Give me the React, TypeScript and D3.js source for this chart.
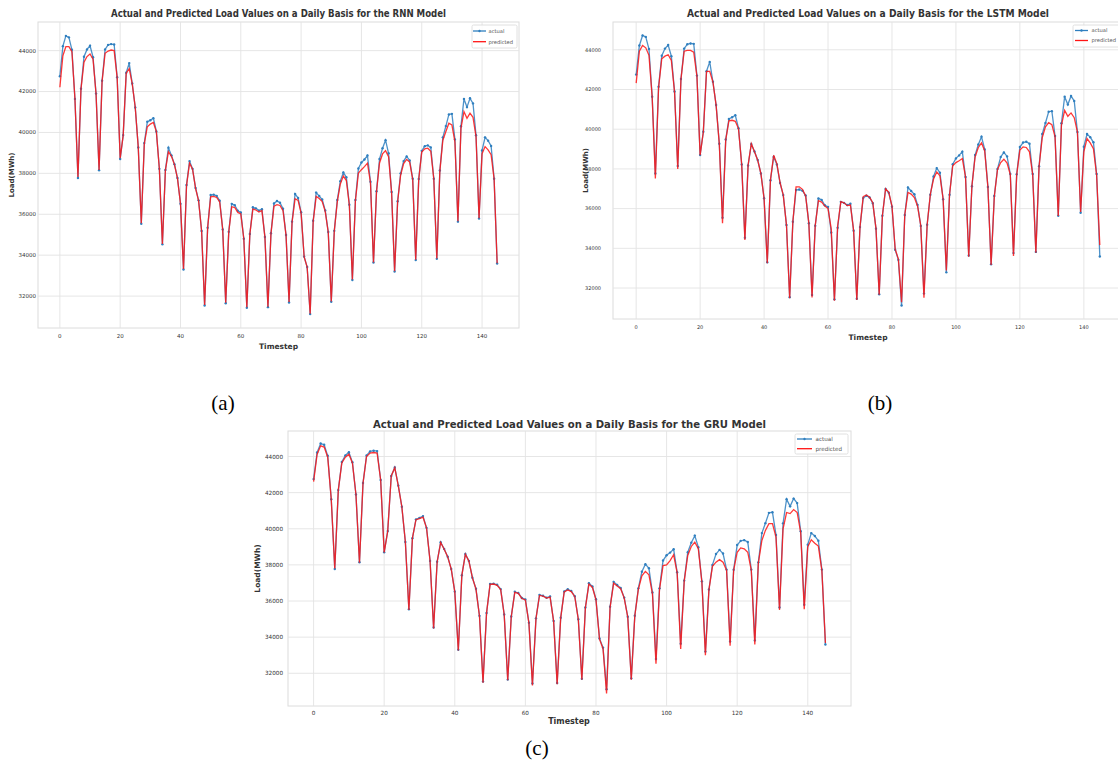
import React from "react";
import * as d3 from "d3";

// daily load (MWh), timesteps 0..145
const actualLoad = [
  42750, 44220, 44720, 44650, 44040, 41640, 37770, 42140, 43700, 44060,
  44240, 43680, 41900, 38150, 42530, 44060, 44280, 44320, 44300, 42700,
  38700, 39870, 42920, 43390, 42390, 41220, 39270, 35540, 39480, 40520,
  40600, 40700, 40050, 38220, 34530, 38170, 39250, 38880, 38450, 37770,
  36520, 33300, 37430, 38600, 38220, 37290, 36680, 35180, 31540, 35340,
  36940, 36960, 36900, 36660, 35260, 31650, 35140, 36510, 36440, 36170,
  36090, 34800, 31430, 35040, 36340, 36290, 36180, 36250, 34890, 31460,
  35070, 36530, 36650, 36560, 36270, 34990, 31690, 35640, 36990, 36800,
  36100, 33930, 33420, 31120, 35680, 37060, 36890, 36720, 36190, 35130,
  31720, 35190, 36700, 37620, 38040, 37810, 36470, 32790, 36700, 38240,
  38530, 38680, 38870, 37590, 33640, 37130, 38700, 39230, 39620, 38980,
  37090, 33200, 36640, 38000, 38600, 38830, 38630, 37740, 33760, 37730,
  39100, 39330, 39370, 39270, 37740, 33820, 38140, 39760, 40310, 40880,
  40910, 39660, 35640, 40300, 41640, 41240, 41670, 41420, 39860, 35790,
  39120, 39760, 39600, 39340, 37740, 33590,
];

const rnnPredicted = [
  42210, 43750, 44200, 44200, 43950, 41640, 37820, 42120, 43430, 43710,
  43840, 43580, 41880, 38160, 42500, 43870, 43980, 44030, 44000, 42680,
  38740, 39860, 42900, 43120, 42370, 41220, 39270, 35560, 39450, 40280,
  40410, 40490, 40040, 38200, 34550, 38150, 39060, 38830, 38430, 37750,
  36520, 33320, 37400, 38500, 38200, 37270, 36660, 35180, 31560, 35330,
  36850, 36870, 36820, 36600, 35250, 31670, 35130, 36370, 36330, 36090,
  36020, 34790, 31450, 35030, 36250, 36210, 36110, 36180, 34870, 31480,
  35050, 36400, 36470, 36430, 36180, 34970, 31710, 35610, 36760, 36680,
  36040, 33920, 33420, 31140, 35650, 36870, 36770, 36620, 36130, 35110,
  31740, 35170, 36620, 37480, 37870, 37650, 36430, 32810, 36650, 38020,
  38180, 38330, 38500, 37540, 33640, 37100, 38510, 38950, 39110, 38810,
  37060, 33220, 36600, 37920, 38480, 38680, 38550, 37700, 33780, 37700,
  39040, 39200, 39230, 39080, 37720, 33840, 38100, 39620, 40050, 40450,
  40370, 39540, 35660, 40200, 41020, 40690, 40940, 40740, 39800, 35810,
  38960, 39310, 39150, 38910, 37720, 33610,
];

const lstmPredicted = [
  42320, 43930, 44220, 44100, 43720, 41620, 37520, 42090, 43550, 43680,
  43750, 43460, 41870, 38000, 42510, 43930, 43970, 43970, 43880, 42660,
  38690, 39860, 42910, 42910, 42380, 41200, 39250, 35260, 39450, 40420,
  40450, 40400, 40030, 38220, 34420, 38190, 39270, 38860, 38440, 37770,
  36510, 33250, 37460, 38690, 38270, 37310, 36680, 35170, 31490, 35340,
  37100, 37100, 36970, 36640, 35260, 31530, 35160, 36400, 36330, 36130,
  36000, 34980, 31360, 35110, 36350, 36290, 36150, 36180, 34890, 31400,
  35080, 36600, 36690, 36580, 36300, 34990, 31660, 35640, 37000, 36820,
  36130, 33960, 33460, 31290, 35690, 36810, 36730, 36560, 36120, 35150,
  31510, 35190, 36730, 37490, 37850, 37650, 36470, 32880, 36700, 38160,
  38320, 38410, 38520, 37600, 33580, 37150, 38610, 39080, 39310, 38910,
  37090, 33160, 36600, 37970, 38320, 38490, 38290, 37720, 33620, 37700,
  38950, 39110, 39080, 38860, 37720, 33780, 38120, 39580, 40120, 40330,
  40230, 39610, 35630, 40200, 40950, 40650, 40820, 40580, 39860, 35830,
  38860, 39530, 39310, 39020, 37680, 34160,
];

const gruPredicted = [
  42610, 44130, 44590, 44520, 43960, 41640, 37800, 42140, 43640, 43960,
  44130, 43640, 41900, 38120, 42520, 44000, 44190, 44220, 44190, 42700,
  38690, 39870, 42920, 43380, 42380, 41220, 39270, 35500, 39480, 40500,
  40560, 40640, 40040, 38210, 34480, 38160, 39240, 38870, 38440, 37760,
  36510, 33260, 37420, 38590, 38210, 37280, 36660, 35160, 31480, 35330,
  36920, 36940, 36870, 36630, 35240, 31620, 35130, 36480, 36420, 36140,
  36060, 34780, 31320, 35020, 36310, 36270, 36160, 36220, 34870, 31400,
  35050, 36500, 36610, 36520, 36240, 34970, 31640, 35620, 36940, 36750,
  36060, 33890, 33360, 30880, 35650, 36980, 36830, 36680, 36160, 35110,
  31640, 35170, 36640, 37400, 37640, 37450, 36400, 32530, 36640, 37960,
  38000, 38240, 38560, 37560, 33350, 37100, 38520, 39020, 39260, 38890,
  37050, 33000, 36620, 37920, 38150, 38290, 38150, 37700, 33530, 37700,
  38700, 38940, 38890, 38700, 37700, 33600, 38100, 39350, 39910, 40280,
  40280, 39540, 35500, 40000, 40900, 40840, 41060, 40900, 39780, 35550,
  39000, 39390, 39200, 39040, 37680, 33680,
];

const xTicks = [0, 20, 40, 60, 80, 100, 120, 140];
const yTicks = [32000, 34000, 36000, 38000, 40000, 42000, 44000];
const legendLabels = ["actual", "predicted"];

const panels = [
  {
    tag: "(a)", model: "RNN", predicted: rnnPredicted,
    left: 38, right: 519, top: 22, bottom: 328,
    titleX: 278.5, titleW: 335, titleY: 17, titleSize: 10.5,
    tickSize: 5.5, yTickGap: 2, xTickGap: 10,
    yLabelX: 14, xLabelX: 278.5, xLabelY: 349, labelSize: 7.5,
    legend: { x: 472, y: 25, w: 45, h: 23, s0: 473, s1: 486, tx: 488.5, r1: 31, r2: 41.7, fs: 5.2 },
    tagX: 223, tagY: 410,
  },
  {
    tag: "(b)", model: "LSTM", predicted: lstmPredicted,
    left: 613, right: 1123, top: 22, bottom: 319,
    titleX: 868, titleW: 362, titleY: 17, titleSize: 10.5,
    tickSize: 5, yTickGap: 12, xTickGap: 10,
    yLabelX: 587.5, xLabelX: 868, xLabelY: 340, labelSize: 7.5,
    legend: { x: 1073, y: 25, w: 52, h: 22, s0: 1075, s1: 1088, tx: 1091.5, r1: 30.5, r2: 40.5, fs: 5.2 },
    tagX: 880, tagY: 410,
  },
  {
    tag: "(c)", model: "GRU", predicted: gruPredicted,
    left: 288, right: 851, top: 431, bottom: 706,
    titleX: 569.5, titleW: 393, titleY: 427.5, titleSize: 11,
    tickSize: 5.7, yTickGap: 5, xTickGap: 8.5,
    yLabelX: 260, xLabelX: 569, xLabelY: 724, labelSize: 8,
    legend: { x: 795, y: 434, w: 53, h: 20, s0: 797, s1: 812, tx: 815.5, r1: 439, r2: 448.7, fs: 5.6 },
    tagX: 537, tagY: 755,
  },
];

const blue = "#2f7fbf";
const red = "#ff1414";
const gridColor = "#e3e3e3";
const font = "DejaVu Sans, sans-serif";

function ChartPanel({ p }: { p: (typeof panels)[number] }) {
  const n = actualLoad.length;
  const pad = (n - 1) * 0.05;
  const x = d3.scaleLinear().domain([-pad, n - 1 + pad]).range([p.left, p.right]);
  const [lo, hi] = d3.extent([...actualLoad, ...p.predicted]) as [number, number];
  const yPad = (hi - lo) * 0.05;
  const y = d3.scaleLinear().domain([lo - yPad, hi + yPad]).range([p.bottom, p.top]);
  const line = d3.line<number>().x((_, i) => x(i)).y((d) => y(d));
  const lg = p.legend;

  return (
    <g>
      <rect x={p.left} y={p.top} width={p.right - p.left} height={p.bottom - p.top}
        fill="#fff" stroke="#dcdcdc" strokeWidth={1} />
      {xTicks.map((t) => (
        <line key={"gx" + t} x1={x(t)} x2={x(t)} y1={p.top} y2={p.bottom} stroke={gridColor} strokeWidth={0.9} />
      ))}
      {yTicks.map((t) => (
        <line key={"gy" + t} x1={p.left} x2={p.right} y1={y(t)} y2={y(t)} stroke={gridColor} strokeWidth={0.9} />
      ))}
      {xTicks.map((t) => (
        <text key={"tx" + t} x={x(t)} y={p.bottom + p.xTickGap} textAnchor="middle"
          fontFamily={font} fontSize={p.tickSize} fill="#333">{t}</text>
      ))}
      {yTicks.map((t) => (
        <text key={"ty" + t} x={p.left - p.yTickGap} y={y(t)} dy="0.35em" textAnchor="end"
          fontFamily={font} fontSize={p.tickSize} fill="#333">{t}</text>
      ))}
      <path d={line(actualLoad) ?? ""} fill="none" stroke={blue} strokeWidth={1.3} opacity={0.85} />
      {actualLoad.map((v, i) => (
        <circle key={"m" + i} cx={x(i)} cy={y(v)} r={1.2} fill={blue} />
      ))}
      <path d={line(p.predicted) ?? ""} fill="none" stroke={red} strokeWidth={1.3} opacity={0.85} />
      <text x={p.titleX} y={p.titleY} textAnchor="middle" fontFamily={font} fontWeight="bold"
        fontSize={p.titleSize} fill="#333" textLength={p.titleW} lengthAdjust="spacingAndGlyphs">
        {`Actual and Predicted Load Values on a Daily Basis for the ${p.model} Model`}
      </text>
      <text x={p.xLabelX} y={p.xLabelY} textAnchor="middle" fontFamily={font} fontWeight="bold"
        fontSize={p.labelSize} fill="#333">Timestep</text>
      <text transform={`translate(${p.yLabelX},${(p.top + p.bottom) / 2}) rotate(-90)`} textAnchor="middle"
        fontFamily={font} fontWeight="bold" fontSize={p.labelSize - 0.5} fill="#333">Load(MWh)</text>
      <g>
        <rect x={lg.x} y={lg.y} width={lg.w} height={lg.h} rx={1.5} fill="#fff" fillOpacity={0.85}
          stroke="#d8d8d8" strokeWidth={0.8} />
        <line x1={lg.s0} x2={lg.s1} y1={lg.r1} y2={lg.r1} stroke={blue} strokeWidth={1.3} />
        <circle cx={(lg.s0 + lg.s1) / 2} cy={lg.r1} r={1.2} fill={blue} />
        <line x1={lg.s0} x2={lg.s1} y1={lg.r2} y2={lg.r2} stroke={red} strokeWidth={1.3} />
        {legendLabels.map((l, i) => (
          <text key={l} x={lg.tx} y={i === 0 ? lg.r1 : lg.r2} dy="0.35em" fontFamily={font}
            fontSize={lg.fs} fill="#555">{l}</text>
        ))}
      </g>
      <text x={p.tagX} y={p.tagY} textAnchor="middle" fontFamily="Liberation Serif, serif"
        fontSize={21} fill="#000">{p.tag}</text>
    </g>
  );
}

export default function App() {
  return (
    <svg width={1118} height={763} style={{ position: "absolute", left: 0, top: 0, background: "#fff" }}>
      {panels.map((p) => (
        <ChartPanel key={p.tag} p={p} />
      ))}
    </svg>
  );
}
